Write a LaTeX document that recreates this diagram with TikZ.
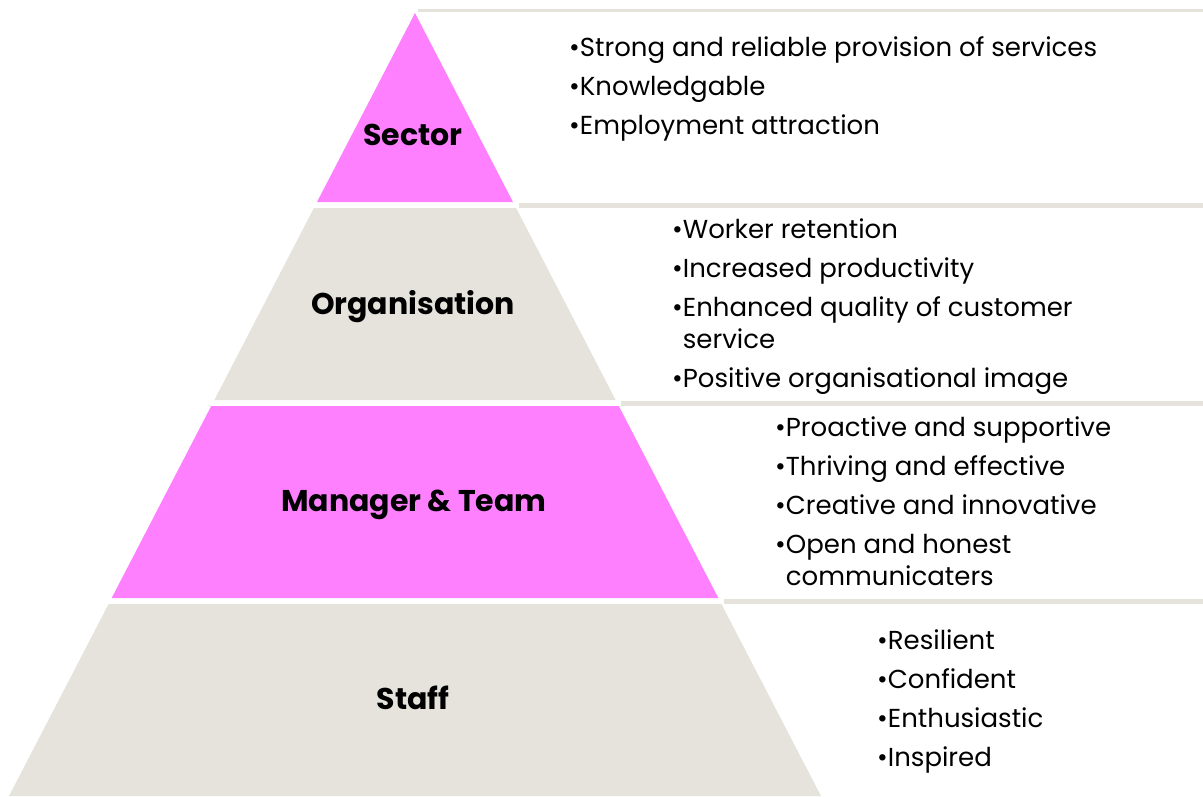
\documentclass[tikz,border=0pt]{standalone}
\usepackage{fontspec}
\setmainfont{Poppins}
\definecolor{tierpink}{HTML}{FF80FF}
\definecolor{tiergrey}{HTML}{E6E3DD}
\tikzset{
  tierlabel/.style={font=\fontsize{30}{32}\selectfont\bfseries},
  pointlist/.style={anchor=north west, align=left, inner sep=0pt,
    font=\fontsize{26}{39}\selectfont},
  panelrule/.style={draw=tiergrey, line width=5pt},
}
\begin{document}
\begin{tikzpicture}[x=1pt, y=-1pt]
  \useasboundingbox (0,0) rectangle (1203,796);
  % grey rules above the text panels
  \draw[panelrule, line width=3pt] (418,10) -- (1203,10);
  \foreach \y/\x in {205/519, 403/621, 601/724}
    \draw[panelrule] (\x,\y) -- (1203,\y);
  % pyramid tiers, apex at (415,13)
  \foreach \t/\b/\c in {13/202/tierpink, 208/400/tiergrey, 406/598/tierpink, 604/796/tiergrey} {
    \pgfmathsetmacro\wt{0.5185*(\t-13)}
    \pgfmathsetmacro\wb{0.5185*(\b-13)}
    \fill[\c] (415-\wt,\t) -- (415+\wt,\t) -- (415+\wb,\b) -- (415-\wb,\b) -- cycle;
  }
  % tier names
  \node[tierlabel] (sector) at (413,135) {Sector};
  \node[tierlabel] (organisation) at (413,307) {Organisation};
  \node[tierlabel] (manager) at (414,505) {Manager \& Team};
  \node[tierlabel] (staff) at (413,698) {Staff};
  % outcomes for each tier
  \node[pointlist] (sectorlist) at (569,36) {%
    •Strong and reliable provision of services\\
    •Knowledgable\\
    •Employment attraction};
  \node[pointlist] (organisationlist) at (672,219) {%
    •Worker retention\\
    •Increased productivity\\
    •Enhanced quality of customer\\[-7pt]
    \phantom{•}service\\
    •Positive organisational image};
  \node[pointlist] (managerlist) at (775,417) {%
    •Proactive and supportive\\
    •Thriving and effective\\
    •Creative and innovative\\
    •Open and honest\\[-7pt]
    \phantom{•}communicaters};
  \node[pointlist] (stafflist) at (877,630) {%
    •Resilient\\
    •Confident\\
    •Enthusiastic\\
    •Inspired};
\end{tikzpicture}
\end{document}
